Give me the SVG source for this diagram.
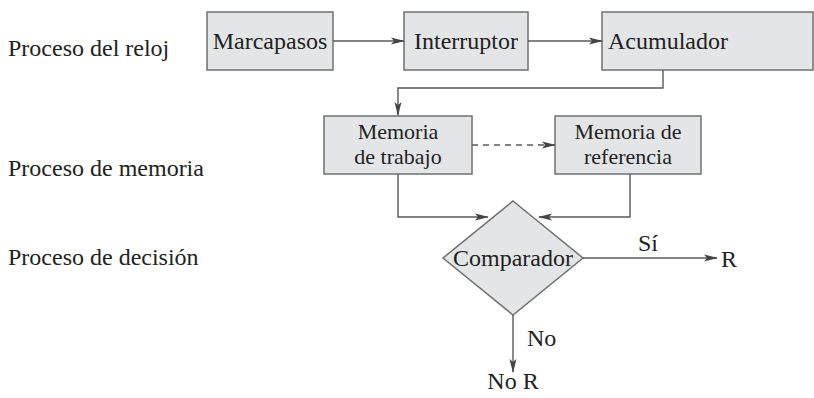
<svg xmlns="http://www.w3.org/2000/svg" width="814" height="398" viewBox="0 0 814 398">
<style>
text{font-family:"Liberation Serif","Times New Roman",serif;font-size:24px;fill:#222}
.box{fill:#e4e5e7;stroke:#707070;stroke-width:1.5}
.c{text-anchor:middle}
.two{font-size:22px}
.ln{fill:none;stroke:#5a5a5a;stroke-width:1.4}
.dash{stroke-dasharray:6 5}
</style>
<defs>
<marker id="ah" markerWidth="14" markerHeight="8" refX="13" refY="4" orient="auto" markerUnits="userSpaceOnUse">
<path d="M0,0.5 L14,4 L0,7.5 L3,4 z" fill="#444"/>
</marker>
</defs>
<g id="labels">
<text x="8" y="56">Proceso del reloj</text>
<text x="8" y="176">Proceso de memoria</text>
<text x="8" y="265">Proceso de decisión</text>
</g>
<g id="marcapasos"><rect class="box" x="207" y="12" width="126" height="58"/><text class="c" x="270" y="49">Marcapasos</text></g>
<g id="interruptor"><rect class="box" x="404" y="12" width="124" height="58"/><text class="c" x="466" y="49">Interruptor</text></g>
<g id="acumulador"><rect class="box" x="602" y="12" width="211" height="58"/><text x="608" y="49">Acumulador</text></g>
<g id="memoria-trabajo"><rect class="box" x="324" y="116" width="148" height="58"/><text class="c two" x="398" y="139">Memoria</text><text class="c two" x="398" y="164">de trabajo</text></g>
<g id="memoria-referencia"><rect class="box" x="555" y="116" width="146" height="58"/><text class="c two" x="628" y="139">Memoria de</text><text class="c two" x="628" y="164">referencia</text></g>
<g id="comparador"><polygon class="box" points="513,201 583,258 513,315 443,258"/><text class="c" x="513" y="266">Comparador</text></g>
<g id="connectors">
<line class="ln" x1="333" y1="41" x2="404" y2="41" marker-end="url(#ah)"/>
<line class="ln" x1="528" y1="41" x2="602" y2="41" marker-end="url(#ah)"/>
<polyline class="ln" points="663,70 663,88 398,88 398,115" marker-end="url(#ah)"/>
<line class="ln dash" x1="472" y1="145" x2="555" y2="145" marker-end="url(#ah)"/>
<polyline class="ln" points="398,174 398,217 488,217" marker-end="url(#ah)"/>
<polyline class="ln" points="630,174 630,217 539,217" marker-end="url(#ah)"/>
<line class="ln" x1="583" y1="258" x2="717" y2="258" marker-end="url(#ah)"/>
<line class="ln" x1="513" y1="315" x2="513" y2="372" marker-end="url(#ah)"/>
</g>
<g id="edge-labels">
<text class="c" x="648" y="251">Sí</text>
<text x="721" y="267">R</text>
<text x="527" y="346">No</text>
<text class="c" x="513" y="389">No R</text>
</g>
</svg>
